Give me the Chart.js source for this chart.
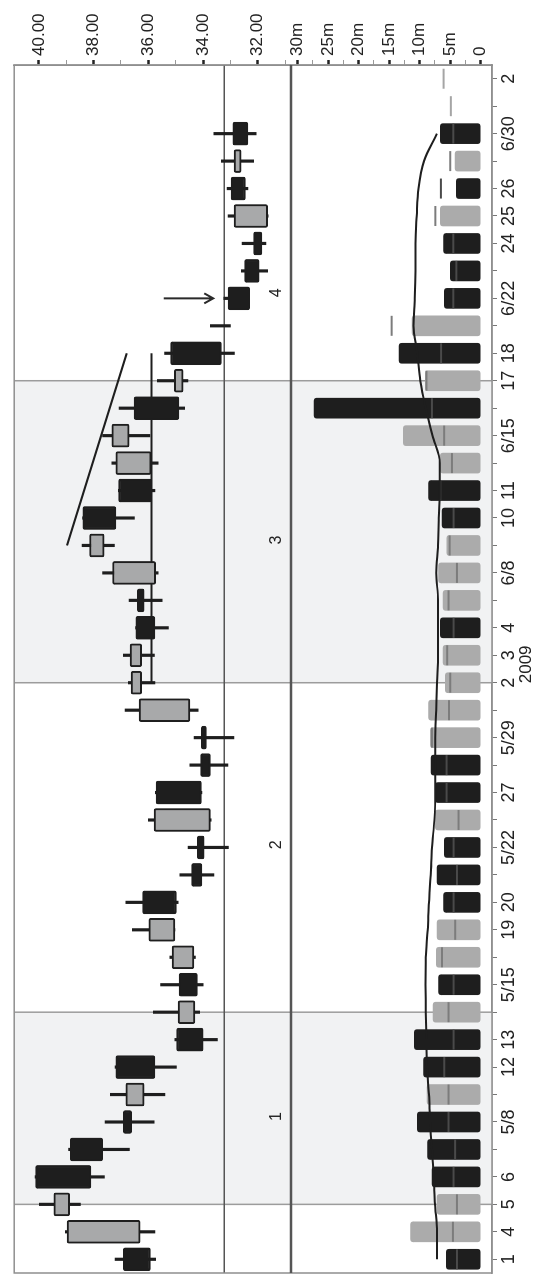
<!DOCTYPE html>
<html>
<head>
<meta charset="utf-8">
<title>Candlestick mai-juillet 2009</title>
<script src="https://cdn.jsdelivr.net/npm/chart.js@4.4.1/dist/chart.umd.min.js"></script>
<style>
    html, body { margin: 0; padding: 0; background: #fff; overflow: hidden; }
    /* le graphique est dessiné à plat puis tourné d'un quart de tour */
    #wrap {
        position: absolute; left: 0; top: 0;
        width: 1285px; height: 535px;
        transform-origin: 0 0;
        transform: translateY(1285px) rotate(-90deg);
    }
</style>
</head>
<body>
<div id="wrap"><canvas id="chart" width="1285" height="535"></canvas></div>
<script>
// Séances
const dates = [
    '05-01', '05-04', '05-05', '05-06', '05-07', '05-08', '05-11', '05-12', '05-13', '05-14', '05-15',
    '05-18', '05-19', '05-20', '05-21', '05-22', '05-26', '05-27', '05-28', '05-29',
    '06-01', '06-02', '06-03', '06-04', '06-05', '06-08', '06-09', '06-10', '06-11', '06-12',
    '06-15', '06-16', '06-17', '06-18', '06-19', '06-22', '06-23', '06-24', '06-25', '06-26',
    '06-29', '06-30', '07-01', '07-02'
];
const dateLabels = [
    '1', '4', '5', '6', '', '5/8', '', '12', '13', '', '5/15',
    '', '19', '20', '', '5/22', '', '27', '', '5/29',
    '', '2', '3', '4', '', '6/8', '', '10', '11', '',
    '6/15', '', '17', '18', '', '6/22', '', '24', '25', '26',
    '', '6/30', '', '2'
];

// Cours (ouverture, plus haut, plus bas, clôture)
const openP = [
    36.91, 36.30, 38.87, 40.12, 38.85, 36.91, 36.15, 37.19, 34.97, 34.30, 34.88,
    34.33, 35.03, 36.21, 34.42, 34.21, 33.73, 35.72, 34.09, 34.06,
    34.48, 36.24, 36.24, 36.46, 36.40, 35.73, 37.61, 38.39, 37.09, 35.90,
    36.70, 36.52, 34.73, 35.19, 33.40, 33.09, 32.48, 32.15, 31.64, 32.98,
    32.61, 32.91, null, null
];
const highP = [
    37.21, 39.03, 39.98, 40.14, 38.91, 37.58, 37.39, 37.21, 35.03, 35.82, 35.55,
    35.21, 36.58, 36.82, 34.85, 34.55, 36.00, 35.74, 34.48, 34.33,
    36.85, 36.73, 36.91, 36.47, 36.70, 37.67, 38.42, 38.40, 37.10, 37.33,
    37.67, 37.07, 35.67, 35.41, 33.73, 33.24, 32.60, 32.57, 33.09, 33.12,
    33.33, 33.61, null, null
];
const lowP = [
    35.73, 35.76, 38.48, 37.60, 36.69, 35.79, 35.39, 34.97, 33.48, 34.12, 34.00,
    34.28, 35.03, 34.91, 33.60, 33.07, 33.70, 34.04, 33.09, 32.87,
    34.18, 35.76, 35.78, 35.27, 35.49, 35.64, 37.24, 36.51, 35.76, 35.64,
    35.94, 34.67, 34.55, 32.85, 33.00, 32.30, 31.64, 31.70, 31.62, 32.36,
    32.15, 32.06, null, null
];
const closeP = [
    35.92, 38.97, 39.45, 38.10, 37.67, 36.61, 36.82, 35.76, 34.00, 34.91, 34.21,
    35.13, 35.98, 34.97, 34.04, 33.96, 35.79, 34.06, 33.73, 33.88,
    36.34, 36.63, 36.67, 35.76, 36.15, 37.31, 38.15, 37.18, 35.88, 37.19,
    37.33, 34.88, 35.05, 33.33, 33.40, 32.30, 31.95, 31.85, 32.87, 32.45,
    32.87, 32.36, null, null
];

// Volumes (millions), repère de volume et moyenne mobile
const volume = [
    5.65, 11.5, 7.17, 7.98, 8.7, 10.4, 8.8, 9.35, 10.9, 7.82, 6.9,
    7.28, 7.17, 6.09, 7.17, 5.98, 7.44, 7.44, 8.14, 8.26,
    8.53, 5.81, 6.19, 6.63, 6.19, 6.9, 5.54, 6.35, 8.53, 6.63,
    12.7, 27.3, 9.07, 13.4, 11.24, 5.98, 5.0, 6.09, 6.63, 4.02,
    4.19, 6.63, null, null
];
const volMark = [
    3.9, 4.56, 3.9, 4.46, 4.2, 5.28, 5.28, 5.98, 4.45, 5.28, 4.45,
    6.35, 4.19, 4.45, 3.9, 4.45, 3.64, 5.6, 5.6, 8.0,
    5.2, 5.0, 5.5, 4.45, 5.28, 3.9, 5.1, 4.45, 6.63, 4.72,
    6.0, 8.0, 8.9, 6.5, 14.6, 4.5, 4.0, 4.5, 7.44, 6.53,
    5.0, 4.5, 4.9, 6.09
];
const volAvg = [
    7.17, 7.17, 7.5, 7.7, 8.0, 8.3, 8.5, 8.8, 8.9, 9.0, 9.07,
    9.0, 8.7, 8.5, 8.2, 8.0, 7.6, 7.44, 7.44, 7.44,
    7.3, 7.17, 7.0, 7.0, 7.0, 7.3, 7.0, 6.9, 6.7, 6.7,
    7.9, 9.0, 9.9, 10.4, 11.0, 10.8, 10.7, 10.7, 10.5, 10.2,
    9.3, 7.2, null, null
];

// Graduations
const priceTicks = [31, 32, 33, 34, 35, 36, 37, 38, 39, 40];
const volumeTicks = [0, 2.5, 5, 7.5, 10, 12.5, 15, 17.5, 20, 22.5, 25, 27.5, 30];

// Zones et tracés d'analyse
const zoneBounds = [2, 9, 21, 32];
const shadedZones = [[2, 9], [21, 32]];
const zoneNames = ['1', '2', '3', '4'];
const zoneNamePos = [5.2, 15.1, 26.2, 35.2];
const zoneNameLevel = 31.33;
const supportLevel = 33.23;
const rangeLevel = 35.88;
const rangeFrom = 21;
const rangeTo = 33;
const trendStart = [26, 38.97];
const trendEnd = [33, 36.79];
const arrowIndex = 35;
const arrowFrom = 35.44;
const arrowTo = 33.63;

const FONT = "'Liberation Sans', Arial, sans-serif";
const INK = '#1e1e1e';
const GREY = '#a8a9aa';
Chart.defaults.font.family = FONT;
Chart.defaults.color = '#222';

// Couleurs dérivées des données
const candleUp = dates.map((d, i) => closeP[i] !== null && closeP[i] >= openP[i]);
const volUp = dates.map((d, i) => {
    if (closeP[i] === null) return false;
    return i === 0 ? closeP[i] >= openP[i] : closeP[i] >= closeP[i - 1];
});

const wickData = dates.map((d, i) => lowP[i] === null ? null : [lowP[i], highP[i]]);
const bodyData = dates.map((d, i) => {
    if (openP[i] === null || openP[i] === closeP[i]) return null;
    return [Math.min(openP[i], closeP[i]), Math.max(openP[i], closeP[i])];
});
const rangeData = dates.map((d, i) => (i >= rangeFrom && i <= rangeTo) ? rangeLevel : null);
const trendData = dates.map((d, i) => i === trendStart[0] ? trendStart[1] : (i === trendEnd[0] ? trendEnd[1] : null));

// Décors : zones grisées, séparations, flèche, numéros de zone
const overlay = {
    id: 'overlay',
    beforeDatasetsDraw(chart) {
        const { ctx, chartArea: a, scales: { x, y } } = chart;
        ctx.save();
        ctx.fillStyle = '#f1f2f3';
        shadedZones.forEach(([s, e]) => {
            const x0 = x.getPixelForValue(s);
            const x1 = x.getPixelForValue(e);
            ctx.fillRect(x0, a.top, x1 - x0, a.bottom - a.top);
        });
        ctx.strokeStyle = '#9c9c9c';
        ctx.lineWidth = 1.5;
        zoneBounds.forEach(i => {
            const px = x.getPixelForValue(i);
            ctx.beginPath();
            ctx.moveTo(px, a.top);
            ctx.lineTo(px, a.bottom);
            ctx.stroke();
        });
        const sy = y.getPixelForValue(supportLevel);
        ctx.strokeStyle = '#555';
        ctx.lineWidth = 1.5;
        ctx.beginPath();
        ctx.moveTo(a.left, sy);
        ctx.lineTo(a.right, sy);
        ctx.stroke();
        ctx.restore();
    },
    afterDatasetsDraw(chart) {
        const { ctx, chartArea: a, scales: { x, y, v } } = chart;
        ctx.save();
        // cadre
        ctx.strokeStyle = '#8f8f8f';
        ctx.lineWidth = 1.5;
        ctx.strokeRect(a.left, a.top, a.right - a.left, a.bottom - a.top);
        // séparation cours / volume
        ctx.strokeStyle = '#555';
        ctx.lineWidth = 2.5;
        ctx.beginPath();
        ctx.moveTo(a.left, v.top);
        ctx.lineTo(a.right, v.top);
        ctx.stroke();
        // flèche
        const ax = x.getPixelForValue(arrowIndex);
        const ay0 = y.getPixelForValue(arrowFrom);
        const ay1 = y.getPixelForValue(arrowTo);
        ctx.strokeStyle = '#2a2a2a';
        ctx.lineWidth = 2;
        ctx.beginPath();
        ctx.moveTo(ax, ay0);
        ctx.lineTo(ax, ay1);
        ctx.moveTo(ax - 5, ay1 - 9);
        ctx.lineTo(ax, ay1);
        ctx.lineTo(ax + 5, ay1 - 9);
        ctx.stroke();
        // numéros de zone
        ctx.fillStyle = '#222';
        ctx.font = '16px ' + FONT;
        ctx.textAlign = 'center';
        ctx.textBaseline = 'middle';
        zoneNames.forEach((n, i) => {
            ctx.fillText(n, x.getPixelForValue(zoneNamePos[i]), y.getPixelForValue(zoneNameLevel));
        });
        // année sous l'axe des dates
        ctx.font = '17px ' + FONT;
        ctx.textBaseline = 'alphabetic';
        ctx.fillText('2009', x.getPixelForValue(21.67), a.bottom + 39);
        ctx.restore();
    }
};

new Chart(document.getElementById('chart'), {
    data: {
        labels: dates,
        datasets: [
            {
                type: 'line', label: 'Moyenne volume', data: volAvg, yAxisID: 'v',
                borderColor: INK, borderWidth: 2, pointRadius: 0,
                cubicInterpolationMode: 'monotone', order: -2
            },
            {
                type: 'line', label: 'Repère volume', data: volMark, yAxisID: 'v',
                showLine: false, pointStyle: 'line', pointRadius: 10, pointBorderWidth: 2,
                pointBorderColor: dates.map((d, i) => volume[i] === null ? '#a5a5a5' : (volUp[i] ? '#7c7c7c' : '#4a4a4a')),
                order: -1
            },
            {
                type: 'line', label: 'Résistance', data: trendData, yAxisID: 'y',
                borderColor: INK, borderWidth: 2, pointRadius: 0, spanGaps: true, order: 0
            },
            {
                type: 'line', label: 'Plafond', data: rangeData, yAxisID: 'y',
                borderColor: INK, borderWidth: 2, pointRadius: 0, order: 3
            },
            {
                type: 'bar', label: 'Corps', data: bodyData, yAxisID: 'y', grouped: false,
                barThickness: 23, borderWidth: 2, borderColor: INK, borderSkipped: false, borderRadius: 2,
                backgroundColor: candleUp.map(up => up ? GREY : INK), order: 1
            },
            {
                type: 'bar', label: 'Mèche', data: wickData, yAxisID: 'y', grouped: false,
                barThickness: 2.5, backgroundColor: INK, order: 2
            },
            {
                type: 'bar', label: 'Volume', data: volume, yAxisID: 'v', grouped: false,
                barThickness: 20, borderRadius: 3, borderSkipped: false,
                backgroundColor: volUp.map(up => up ? '#ababab' : INK), order: 4
            }
        ]
    },
    options: {
        responsive: false,
        animation: false,
        devicePixelRatio: 1,
        layout: { padding: { top: 12, left: 0, right: 0, bottom: 0 } },
        plugins: { legend: { display: false }, tooltip: { enabled: false } },
        scales: {
            x: {
                type: 'category',
                offset: true,
                grid: { offset: false, drawOnChartArea: false, tickLength: 5, color: '#777' },
                border: { color: '#8f8f8f', width: 1.5 },
                ticks: {
                    autoSkip: false, maxRotation: 0, padding: 1,
                    font: { size: 18 },
                    callback: (val, i) => dateLabels[i]
                },
                afterFit: s => { s.height = 43; }
            },
            y: {
                position: 'right', stack: 'panels', stackWeight: 278,
                min: 30.79, max: 40.9,
                afterBuildTicks: s => { s.ticks = priceTicks.map(p => ({ value: p })); },
                ticks: { autoSkip: false, padding: 4, font: { size: 17 }, callback: p => p % 2 === 0 ? p.toFixed(2) : '' },
                grid: {
                    drawOnChartArea: false, tickLength: 5,
                    tickWidth: c => (c.tick && c.tick.value % 2 === 0) ? 2.5 : 1,
                    tickColor: c => (c.tick && c.tick.value % 2 === 0) ? '#222' : '#999'
                },
                border: { color: '#8f8f8f', width: 1.5 },
                afterFit: s => { s.width = 65; }
            },
            v: {
                position: 'right', stack: 'panels', stackWeight: 202,
                min: -1.84, max: 31.1,
                afterBuildTicks: s => { s.ticks = volumeTicks.map(t => ({ value: t })); },
                ticks: { autoSkip: false, padding: 4, font: { size: 17 }, callback: t => t % 5 === 0 ? (t === 0 ? '0' : t + 'm') : '' },
                grid: {
                    drawOnChartArea: false, tickLength: 5,
                    tickWidth: c => (c.tick && c.tick.value % 5 === 0) ? 2.5 : 1,
                    tickColor: c => (c.tick && c.tick.value % 5 === 0) ? '#222' : '#999'
                },
                border: { color: '#8f8f8f', width: 1.5 },
                afterFit: s => { s.width = 65; }
            }
        }
    },
    plugins: [overlay]
});
</script>
</body>
</html>
